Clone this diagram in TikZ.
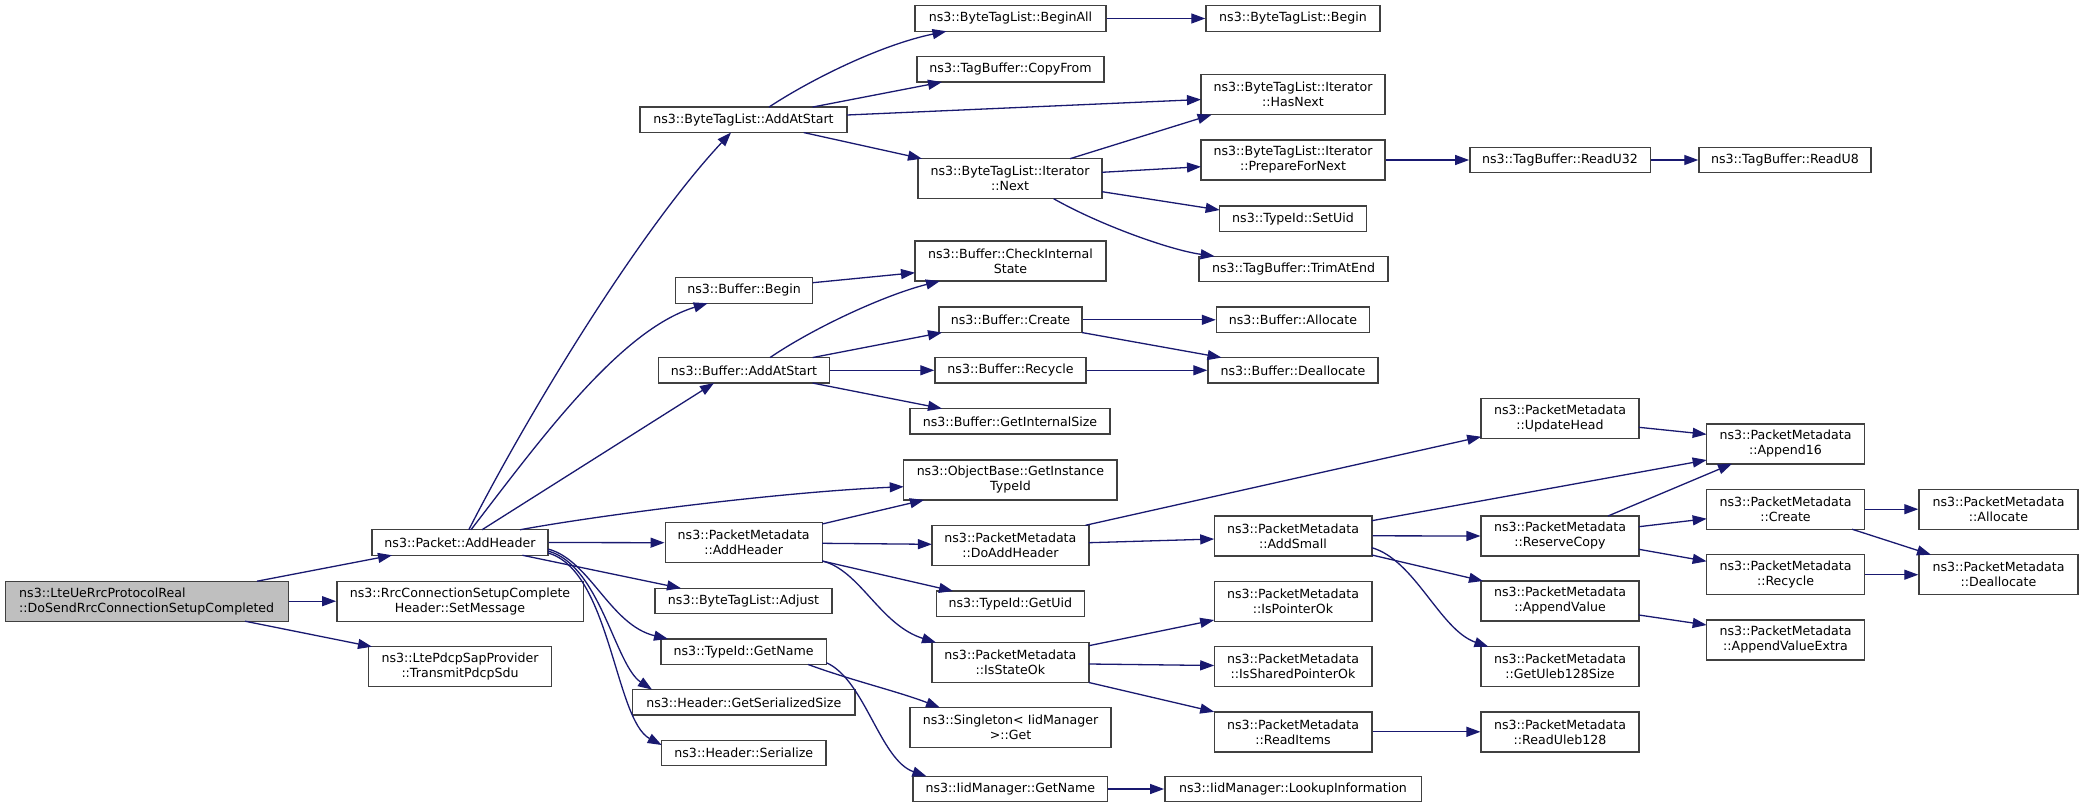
\documentclass[tikz,border=0pt]{standalone}
\usepackage{fontspec}
\setmainfont{DejaVu Sans}
\usetikzlibrary{arrows.meta,calc}
\definecolor{edgec}{HTML}{191970}
\definecolor{boxc}{HTML}{404040}
\definecolor{mainfill}{HTML}{BFBFBF}
\newcommand{\dxfont}{\fontsize{12.6}{15}\selectfont}
\tikzset{
  box/.style={draw=boxc, line width=1.4pt, fill=white, align=center, inner xsep=3pt, inner ysep=1pt, font=\dxfont},
  sbox/.style={box, minimum width=#1pt, minimum height=25.5pt},
  dbox/.style={box, minimum width=#1pt, minimum height=40pt},
  e/.style={draw=edgec, line width=1.3pt, -{Triangle[length=14pt,width=10pt]}}
}
\begin{document}
\begin{tikzpicture}[x=1pt,y=-1pt]
\fill[white] (0,0) rectangle (2083,809);
\useasboundingbox (0,0) rectangle (2083,809);
% column 0
\node[dbox=283, fill=mainfill, align=left] (main) at (146.7,601.2) {ns3::LteUeRrcProtocolReal\\::DoSendRrcConnectionSetupCompleted};
% column 1
\node[sbox=176] (pAH) at (460,542.5) {ns3::Packet::AddHeader};
\node[dbox=246.4] (setmsg) at (460,601.2) {ns3::RrcConnectionSetupComplete\\Header::SetMessage};
\node[dbox=182.5] (pdcp) at (460,666.7) {ns3::LtePdcpSapProvider\\::TransmitPdcpSdu};
% column 2
\node[sbox=207] (btlAAS) at (743.5,119.8) {ns3::ByteTagList::AddAtStart};
\node[sbox=137.5] (bBegin) at (744,290.5) {ns3::Buffer::Begin};
\node[sbox=170.5] (bAAS) at (744,370.3) {ns3::Buffer::AddAtStart};
\node[dbox=157] (pmAH) at (743.7,542.7) {ns3::PacketMetadata\\::AddHeader};
\node[sbox=177] (adjust) at (743.5,601) {ns3::ByteTagList::Adjust};
\node[sbox=165.6] (tiGN) at (743.6,651.7) {ns3::TypeId::GetName};
\node[sbox=222.3] (gss) at (743.8,702.3) {ns3::Header::GetSerializedSize};
\node[sbox=164.3] (ser) at (743.8,753) {ns3::Header::Serialize};
% column 3
\node[sbox=191] (beginAll) at (1010.5,18.5) {ns3::ByteTagList::BeginAll};
\node[sbox=187] (copyFrom) at (1010.5,69.3) {ns3::TagBuffer::CopyFrom};
\node[dbox=184] (next) at (1010,178.7) {ns3::ByteTagList::Iterator\\::Next};
\node[dbox=191] (cis) at (1010.5,261) {ns3::Buffer::CheckInternal\\State};
\node[sbox=143] (bCreate) at (1010.5,319.8) {ns3::Buffer::Create};
\node[sbox=151] (bRecycle) at (1010.5,370.3) {ns3::Buffer::Recycle};
\node[sbox=200] (gis) at (1010,421.3) {ns3::Buffer::GetInternalSize};
\node[dbox=213.4] (obGIT) at (1010.4,480) {ns3::ObjectBase::GetInstance\\TypeId};
\node[dbox=157] (doAH) at (1010.4,545.3) {ns3::PacketMetadata\\::DoAddHeader};
\node[sbox=148] (getUid) at (1010.3,603.8) {ns3::TypeId::GetUid};
\node[dbox=157] (iso) at (1010.4,662.5) {ns3::PacketMetadata\\::IsStateOk};
\node[dbox=201] (sgGet) at (1010.5,727.7) {ns3::Singleton< IidManager\\>::Get};
\node[sbox=194.7] (iidGN) at (1010.3,789) {ns3::IidManager::GetName};
% column 4
\node[sbox=174] (btlBegin) at (1293,18.5) {ns3::ByteTagList::Begin};
\node[dbox=184] (hasNext) at (1293,94.7) {ns3::ByteTagList::Iterator\\::HasNext};
\node[dbox=184] (pfn) at (1293,160) {ns3::ByteTagList::Iterator\\::PrepareForNext};
\node[sbox=146.7] (setUid) at (1293,218.7) {ns3::TypeId::SetUid};
\node[sbox=189] (trim) at (1293.5,269) {ns3::TagBuffer::TrimAtEnd};
\node[sbox=153] (bAlloc) at (1293,319.8) {ns3::Buffer::Allocate};
\node[sbox=170] (bDealloc) at (1293,370.3) {ns3::Buffer::Deallocate};
\node[dbox=157.6] (addSmall) at (1293,535.8) {ns3::PacketMetadata\\::AddSmall};
\node[dbox=157.6] (isPtr) at (1293,601.2) {ns3::PacketMetadata\\::IsPointerOk};
\node[dbox=157.6] (isShared) at (1293,666.5) {ns3::PacketMetadata\\::IsSharedPointerOk};
\node[dbox=157.6] (readItems) at (1293,731.8) {ns3::PacketMetadata\\::ReadItems};
\node[sbox=256.4] (lookup) at (1293,789) {ns3::IidManager::LookupInformation};
% column 5
\node[sbox=180.4] (readU32) at (1560,160) {ns3::TagBuffer::ReadU32};
\node[dbox=157.7] (updHead) at (1560,418.5) {ns3::PacketMetadata\\::UpdateHead};
\node[dbox=157.7] (reserve) at (1560,536) {ns3::PacketMetadata\\::ReserveCopy};
\node[dbox=157.7] (appVal) at (1560,601) {ns3::PacketMetadata\\::AppendValue};
\node[dbox=157.7] (uleb) at (1560,666.7) {ns3::PacketMetadata\\::GetUleb128Size};
\node[dbox=157.7] (readUleb) at (1560,731.8) {ns3::PacketMetadata\\::ReadUleb128};
% column 6
\node[sbox=172] (readU8) at (1785,160) {ns3::TagBuffer::ReadU8};
\node[dbox=157.7] (append16) at (1785.5,443.8) {ns3::PacketMetadata\\::Append16};
\node[dbox=157.7] (pmCreate) at (1785.5,509.2) {ns3::PacketMetadata\\::Create};
\node[dbox=157.7] (pmRecycle) at (1785.5,574.7) {ns3::PacketMetadata\\::Recycle};
\node[dbox=157.7] (appValEx) at (1785.5,640) {ns3::PacketMetadata\\::AppendValueExtra};
% column 7
\node[dbox=159] (pmAlloc) at (1998.5,509.2) {ns3::PacketMetadata\\::Allocate};
\node[dbox=159] (pmDealloc) at (1998.5,574.7) {ns3::PacketMetadata\\::Deallocate};
% edges
\draw[e] ($(main)+(110.3,-20)$) -- ($(pAH)+(-68,12.75)$);
\draw[e] (main.east) -- (setmsg.west);
\draw[e] ($(main)+(98.3,20)$) -- ($(pdcp)+(-88,-20)$);
\draw[e] ($(pAH)+(8.8,-12.75)$) .. controls (530,410) and (640,230) .. ($(btlAAS)+(-12.5,12.75)$);
\draw[e] ($(pAH)+(11,-12.75)$) .. controls (540,440) and (620,330) .. ($(bBegin)+(-36.3,12.75)$);
\draw[e] ($(pAH)+(22,-12.75)$) -- ($(bAAS)+(-30,12.75)$);
\draw[e] ($(pAH)+(60,-12.75)$) .. controls (600,515) and (780,492) .. ($(obGIT)+(-106.7,6.7)$);
\draw[e] (pAH.east) -- (pmAH.west);
\draw[e] ($(pAH)+(62.4,12.75)$) -- ($(adjust)+(-62.5,-12.75)$);
\draw[e] ($(pAH)+(88,6.5)$) .. controls (590,560) and (610,625) .. ($(tiGN)+(-75.6,-12.75)$);
\draw[e] ($(pAH)+(88,8.5)$) .. controls (600,565) and (615,665) .. ($(gss)+(-91.8,-12.75)$);
\draw[e] ($(pAH)+(88,10.5)$) .. controls (610,570) and (615,720) .. ($(ser)+(-82.15,-8)$);
\draw[e] ($(btlAAS)+(25.5,-12.75)$) .. controls (810,80) and (880,45) .. ($(beginAll)+(-64,12.75)$);
\draw[e] ($(btlAAS)+(69.1,-12.75)$) -- ($(copyFrom)+(-68.5,12.75)$);
\draw[e] ($(btlAAS)+(103.5,-4.8)$) -- ($(hasNext)+(-92,4.8)$);
\draw[e] ($(btlAAS)+(60.2,12.75)$) -- ($(next)+(-88,-20)$);
\draw[e] ($(next)+(60,-20)$) -- ($(hasNext)+(-81.4,20)$);
\draw[e] ($(next)+(92,-6.4)$) -- ($(pfn)+(-92,6.7)$);
\draw[e] ($(next)+(92,13)$) -- ($(setUid)+(-73.35,-8.7)$);
\draw[e] ($(next)+(43.6,20)$) .. controls (1100,225) and (1170,250) .. ($(trim)+(-78.9,-12.75)$);
\draw[e] (beginAll.east) -- (btlBegin.west);
\draw[e] (pfn.east) -- (readU32.west);
\draw[e] (readU32.east) -- (readU8.west);
\draw[e] ($(bBegin)+(68.75,-7.8)$) -- ($(cis)+(-95.5,11.7)$);
\draw[e] ($(bAAS)+(26,-12.75)$) .. controls (815,327) and (885,295) .. ($(cis)+(-70.5,20)$);
\draw[e] ($(bAAS)+(68.6,-12.75)$) -- ($(bCreate)+(-68.5,12.75)$);
\draw[e] (bAAS.east) -- (bRecycle.west);
\draw[e] ($(bAAS)+(68.6,12.75)$) -- ($(gis)+(-68,-12.75)$);
\draw[e] (bCreate.east) -- (bAlloc.west);
\draw[e] ($(bCreate)+(71.5,12.75)$) -- ($(bDealloc)+(-71.5,-12.75)$);
\draw[e] (bRecycle.east) -- (bDealloc.west);
\draw[e] ($(pmAH)+(78.5,-18.7)$) -- ($(obGIT)+(-86.4,20)$);
\draw[e] ($(pmAH)+(78.5,0.6)$) -- ($(doAH)+(-78.5,-1)$);
\draw[e] ($(pmAH)+(78.5,18.3)$) -- ($(getUid)+(-57.3,-12.75)$);
\draw[e] ($(pmAH)+(78.5,18.3)$) .. controls (860,570) and (880,625) .. ($(iso)+(-74.4,-20)$);
\draw[e] ($(doAH)+(75,-20)$) -- ($(updHead)+(-78.85,18.2)$);
\draw[e] ($(doAH)+(78.5,-2.6)$) -- ($(addSmall)+(-78.8,3.2)$);
\draw[e] ($(addSmall)+(78.8,-15.1)$) -- ($(append16)+(-78.85,16.2)$);
\draw[e] (addSmall.east) -- (reserve.west);
\draw[e] ($(addSmall)+(78.8,19.2)$) -- ($(appVal)+(-77,-20)$);
\draw[e] ($(addSmall)+(78.8,11.9)$) .. controls (1415,560) and (1440,630) .. ($(uleb)+(-71.6,-20)$);
\draw[e] ($(updHead)+(78.85,8.8)$) -- ($(append16)+(-78.85,-9.5)$);
\draw[e] ($(reserve)+(48,-20)$) -- ($(append16)+(-53.5,20)$);
\draw[e] ($(reserve)+(78.85,-9.3)$) -- ($(pmCreate)+(-78.85,9.5)$);
\draw[e] ($(reserve)+(78.85,13.3)$) -- ($(pmRecycle)+(-78.85,-13.4)$);
\draw[e] (pmCreate.east) -- (pmAlloc.west);
\draw[e] ($(pmCreate)+(66.5,20)$) -- ($(pmDealloc)+(-67.5,-20)$);
\draw[e] (pmRecycle.east) -- (pmDealloc.west);
\draw[e] ($(appVal)+(78.85,14)$) -- ($(appValEx)+(-78.85,-15)$);
\draw[e] ($(iso)+(78.5,-16.8)$) -- ($(isPtr)+(-78.8,18.8)$);
\draw[e] ($(iso)+(78.5,1.5)$) -- ($(isShared)+(-78.8,-1)$);
\draw[e] ($(iso)+(78.5,20)$) -- ($(readItems)+(-78.8,-20)$);
\draw[e] (readItems.east) -- (readUleb.west);
\draw[e] ($(tiGN)+(64.4,12.75)$) .. controls (850,680) and (900,692) .. ($(sgGet)+(-70.5,-20)$);
\draw[e] ($(tiGN)+(82.8,11)$) .. controls (865,680) and (880,760) .. ($(iidGN)+(-83.9,-12.75)$);
\draw[e] (iidGN.east) -- (lookup.west);
\end{tikzpicture}
\end{document}
